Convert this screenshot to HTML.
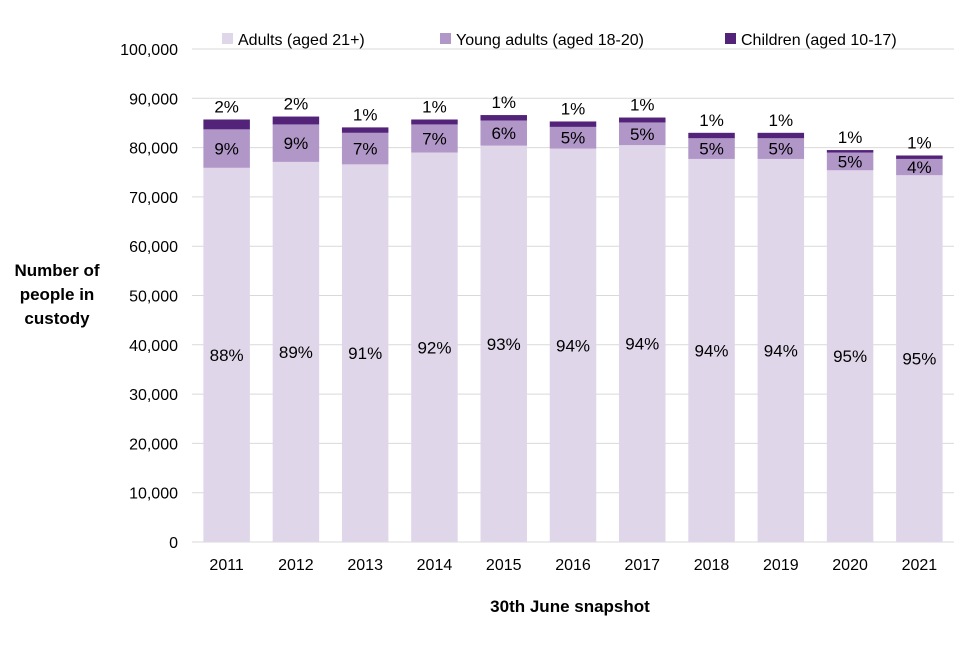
<!DOCTYPE html>
<html><head><meta charset="utf-8"><style>
body{margin:0;background:#fff;}
svg text{font-family:"Liberation Sans",Arial,sans-serif;fill:#000;}
</style></head><body>
<svg id="chart" width="960" height="640">
<g id="grid"></g><g id="bars"></g><g id="labels"></g>
<g font-size="16">
<rect x="222" y="33" width="11" height="11" fill="#e0d6ea"/>
<text x="238" y="45">Adults (aged 21+)</text>
<rect x="440" y="33" width="11" height="11" fill="#b196c8"/>
<text x="456" y="45">Young adults (aged 18-20)</text>
<rect x="725" y="33" width="11" height="11" fill="#532379"/>
<text x="741" y="45">Children (aged 10-17)</text>
</g>
<text x="57" y="276" text-anchor="middle" font-weight="bold" font-size="17"><tspan x="57">Number of</tspan><tspan x="57" dy="24">people in</tspan><tspan x="57" dy="24">custody</tspan></text>
<text x="570" y="612" text-anchor="middle" font-weight="bold" font-size="17">30th June snapshot</text>
</svg>
<script>
const years=["2011","2012","2013","2014","2015","2016","2017","2018","2019","2020","2021"];
const adults=[75900,77100,76600,79000,80400,79800,80500,77700,77700,75400,74400];
const youngAdults=[7800,7600,6400,5700,5100,4400,4600,4200,4200,3600,3300];
const children=[2000,1600,1100,1000,1100,1100,1000,1100,1100,500,700];
const adultPct=["88%","89%","91%","92%","93%","94%","94%","94%","94%","95%","95%"];
const youngPct=["9%","9%","7%","7%","6%","5%","5%","5%","5%","5%","4%"];
const childPct=["2%","2%","1%","1%","1%","1%","1%","1%","1%","1%","1%"];
const yTicks=[0,10000,20000,30000,40000,50000,60000,70000,80000,90000,100000];
const NS="http://www.w3.org/2000/svg";
const L=192,R=954,T=49,B=542,MAX=100000;
const y=v=>B-(v/MAX)*(B-T);
const step=(R-L)/years.length;
const xc=i=>L+step*(i+0.5);
const bw=46.5;
function mk(tag,attrs,parent){const e=document.createElementNS(NS,tag);for(const k in attrs)e.setAttribute(k,attrs[k]);document.getElementById(parent).appendChild(e);return e;}
yTicks.forEach(t=>{
 if(t>0){const g=mk("line",{x1:L,x2:R,y1:y(t),y2:y(t),stroke:"#d9d9d9","stroke-width":1},"grid");
 
 }
 const tx=mk("text",{x:178,y:y(t)+6,"text-anchor":"end","font-size":16},"grid");
 tx.textContent=t.toLocaleString("en-US");
 
 
});
const ax=mk("line",{x1:L,x2:R,y1:B,y2:B,stroke:"#d9d9d9"},"grid");


years.forEach((yr,i)=>{
 const x=xc(i)-bw/2;
 const a=adults[i],ya=youngAdults[i],c=children[i];
 const r1=mk("rect",{x:x,width:bw,y:y(a),height:B-y(a),fill:"#e0d6ea"},"bars");
 
 
 const r2=mk("rect",{x:x,width:bw,y:y(a+ya),height:y(a)-y(a+ya),fill:"#b196c8"},"bars");
 
 
 const r3=mk("rect",{x:x,width:bw,y:y(a+ya+c),height:y(a+ya)-y(a+ya+c),fill:"#532379"},"bars");
 
 
 const t1=mk("text",{x:xc(i),y:(y(a)+B)/2+6,"text-anchor":"middle","font-size":17},"labels");
 t1.textContent=adultPct[i];
 
 
 const t2=mk("text",{x:xc(i),y:(y(a)+y(a+ya))/2+6,"text-anchor":"middle","font-size":17},"labels");
 t2.textContent=youngPct[i];
 
 
 const t3=mk("text",{x:xc(i),y:y(a+ya+c)-7,"text-anchor":"middle","font-size":17},"labels");
 t3.textContent=childPct[i];
 
 
 const t4=mk("text",{x:xc(i),y:570,"text-anchor":"middle","font-size":16},"labels");
 t4.textContent=yr;
 
 
});
</script>
</body></html>
